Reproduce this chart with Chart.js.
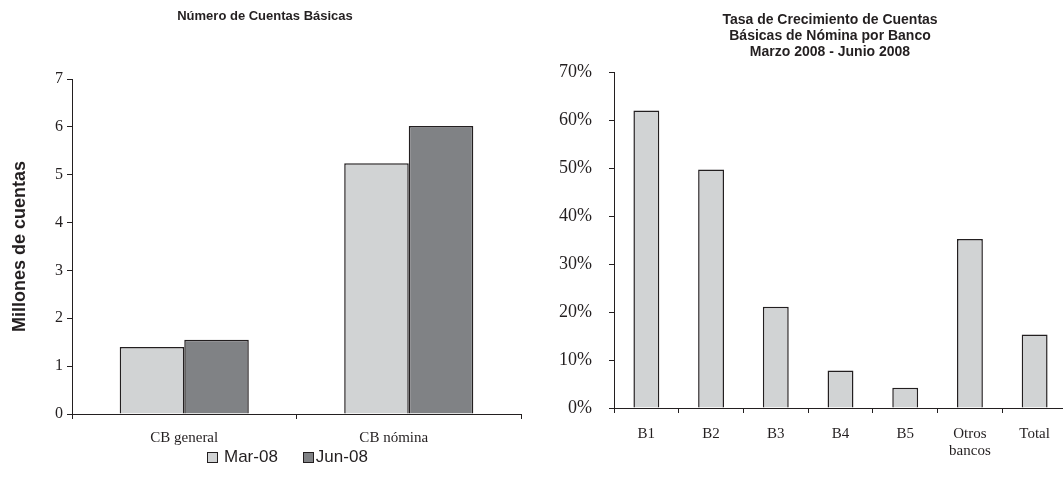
<!DOCTYPE html>
<html lang="es">
<head>
<meta charset="utf-8">
<title>Cuentas Básicas</title>
<script src="https://cdn.jsdelivr.net/npm/chart.js@4.4.1/dist/chart.umd.min.js"></script>
<style>
  html, body { margin: 0; padding: 0; background: #ffffff; overflow: hidden; }
  body { width: 1063px; height: 487px; position: relative; }
  .panel { position: absolute; top: 0; height: 487px; }
  #panelCuentas { left: 0; width: 530px; }
  #panelCrecimiento { left: 530px; width: 572px; }
  #leyendaCuentas {
    position: absolute; left: 207px; top: 448px; height: 18px;
    display: flex; align-items: center;
    font-family: 'Liberation Sans', Arial, sans-serif; font-size: 17px; line-height: 18px; color: #231f20;
  }
  #leyendaCuentas .caja { width: 9px; height: 9px; border: 1px solid #231f20; box-sizing: content-box; }
  #leyendaCuentas .item { display: flex; align-items: center; }
</style>
</head>
<body>
<div class="panel" id="panelCuentas"><canvas id="graficaCuentas" width="530" height="487"></canvas></div>
<div class="panel" id="panelCrecimiento"><canvas id="graficaCrecimiento" width="572" height="487"></canvas></div>
<div id="leyendaCuentas"></div>
<script>
// Número de cuentas básicas (millones)
const categoriasCuentas = ['CB general', 'CB nómina'];
const cuentasMar08 = [1.40, 5.24];
const cuentasJun08 = [1.55, 6.02];
const ticksCuentas = [0, 1, 2, 3, 4, 5, 6, 7];

// Tasa de crecimiento de cuentas básicas de nómina, marzo-junio 2008 (%)
const bancos = ['B1', 'B2', 'B3', 'B4', 'B5', ['Otros', 'bancos'], 'Total'];
const crecimientoNomina = [62.0, 49.7, 21.1, 7.8, 4.2, 35.2, 15.3];
const ticksCrecimiento = [0, 10, 20, 30, 40, 50, 60, 70];

const TINTA = '#231f20';
const GRIS_CLARO = '#d1d3d4';
const GRIS_OSCURO = '#808285';
const SERIF = "'Liberation Serif', 'Times New Roman', serif";
const SANS = "'Liberation Sans', Arial, sans-serif";

Chart.defaults.animation = false;
Chart.defaults.color = TINTA;

function ejeComun() {
  return {
    border: { display: true, color: TINTA, width: 1 },
    grid: { drawOnChartArea: false, drawTicks: true, tickLength: 5, tickColor: TINTA, tickWidth: 1 }
  };
}

const graficaCuentas = new Chart(document.getElementById('graficaCuentas'), {
  type: 'bar',
  data: {
    labels: categoriasCuentas,
    datasets: [
      { label: 'Mar-08', data: cuentasMar08, backgroundColor: GRIS_CLARO, borderColor: TINTA, borderWidth: 1.5,
        categoryPercentage: 0.575, barPercentage: 1.0 },
      { label: 'Jun-08', data: cuentasJun08, backgroundColor: GRIS_OSCURO, borderColor: TINTA, borderWidth: 1.5,
        categoryPercentage: 0.575, barPercentage: 1.0 }
    ]
  },
  options: {
    responsive: false,
    devicePixelRatio: 1,
    layout: { padding: { left: 9, right: 9, top: 0, bottom: 37 } },
    plugins: {
      tooltip: { enabled: false },
      legend: { display: false },
      title: {
        display: true,
        text: 'Número de Cuentas Básicas',
        color: TINTA,
        font: { family: SANS, size: 13, weight: 'bold', lineHeight: 1.2 },
        padding: { top: 9, bottom: 54.4 }
      }
    },
    scales: {
      x: Object.assign(ejeComun(), {
        ticks: {
          color: TINTA, font: { family: SERIF, size: 15 }, padding: 10, maxRotation: 0,
          // la segunda etiqueta va corrida hacia la izquierda
          callback: function (v, i) {
            const t = this.getLabelForValue(v);
            return i === 1 ? t + '\u00a0'.repeat(8) : t;
          }
        },
        afterFit: (s) => { s.height = 36; }
      }),
      y: Object.assign(ejeComun(), {
        min: 0, max: 7,
        afterBuildTicks: (s) => { s.ticks = ticksCuentas.map(v => ({ value: v })); },
        ticks: { color: TINTA, font: { family: SERIF, size: 16 }, padding: 4 },
        title: {
          display: true,
          text: 'Millones de cuentas',
          color: TINTA,
          font: { family: SANS, size: 18, weight: 'bold', lineHeight: 1.2 },
          padding: { top: 0, bottom: 0 }
        },
        afterFit: (s) => { s.width = 63; }
      })
    }
  }
});

// Leyenda de la gráfica de cuentas, construida a partir de sus series
(function construirLeyenda(chart) {
  const cont = document.getElementById('leyendaCuentas');
  const espacios = [{ caja: 6, fin: 25 }, { caja: 2, fin: 0 }];
  chart.data.datasets.forEach((ds, i) => {
    const item = document.createElement('div');
    item.className = 'item';
    item.style.marginRight = espacios[i].fin + 'px';
    const caja = document.createElement('span');
    caja.className = 'caja';
    caja.style.background = ds.backgroundColor;
    caja.style.marginRight = espacios[i].caja + 'px';
    const texto = document.createElement('span');
    texto.textContent = ds.label;
    item.appendChild(caja);
    item.appendChild(texto);
    cont.appendChild(item);
  });
})(graficaCuentas);

new Chart(document.getElementById('graficaCrecimiento'), {
  type: 'bar',
  data: {
    labels: bancos,
    datasets: [
      { label: 'Crecimiento', data: crecimientoNomina, backgroundColor: GRIS_CLARO, borderColor: TINTA, borderWidth: 1.5,
        categoryPercentage: 0.4, barPercentage: 1.0, yAxisID: 'y' }
    ]
  },
  options: {
    responsive: false,
    devicePixelRatio: 1,
    layout: { padding: { left: 28, right: 0, top: 0, bottom: 0 } },
    plugins: {
      tooltip: { enabled: false },
      legend: { display: false },
      title: {
        display: true,
        text: ['Tasa de Crecimiento de Cuentas', 'Básicas de Nómina por Banco', 'Marzo 2008 - Junio 2008'],
        color: TINTA,
        font: { family: SANS, size: 14, weight: 'bold', lineHeight: 1.15 },
        padding: { top: 12, bottom: 11.7 }
      }
    },
    scales: {
      x: Object.assign(ejeComun(), {
        ticks: { color: TINTA, font: { family: SERIF, size: 15, lineHeight: 1.15 }, padding: 12, maxRotation: 0, autoSkip: false },
        afterFit: (s) => { s.height = 79; }
      }),
      y: Object.assign(ejeComun(), {
        min: 0, max: 70,
        afterBuildTicks: (s) => { s.ticks = ticksCrecimiento.map(v => ({ value: v })); },
        ticks: { color: TINTA, font: { family: SERIF, size: 18 }, padding: 17, callback: (v) => v + '%' },
        afterFit: (s) => { s.width = 56; }
      }),
      // margen derecho sin marcas, deja el título centrado sobre el panel
      margen: {
        type: 'linear', position: 'right', display: true,
        grid: { display: false }, border: { display: false }, ticks: { display: false },
        afterFit: (s) => { s.width = 35; }
      }
    }
  }
});
</script>
</body>
</html>
